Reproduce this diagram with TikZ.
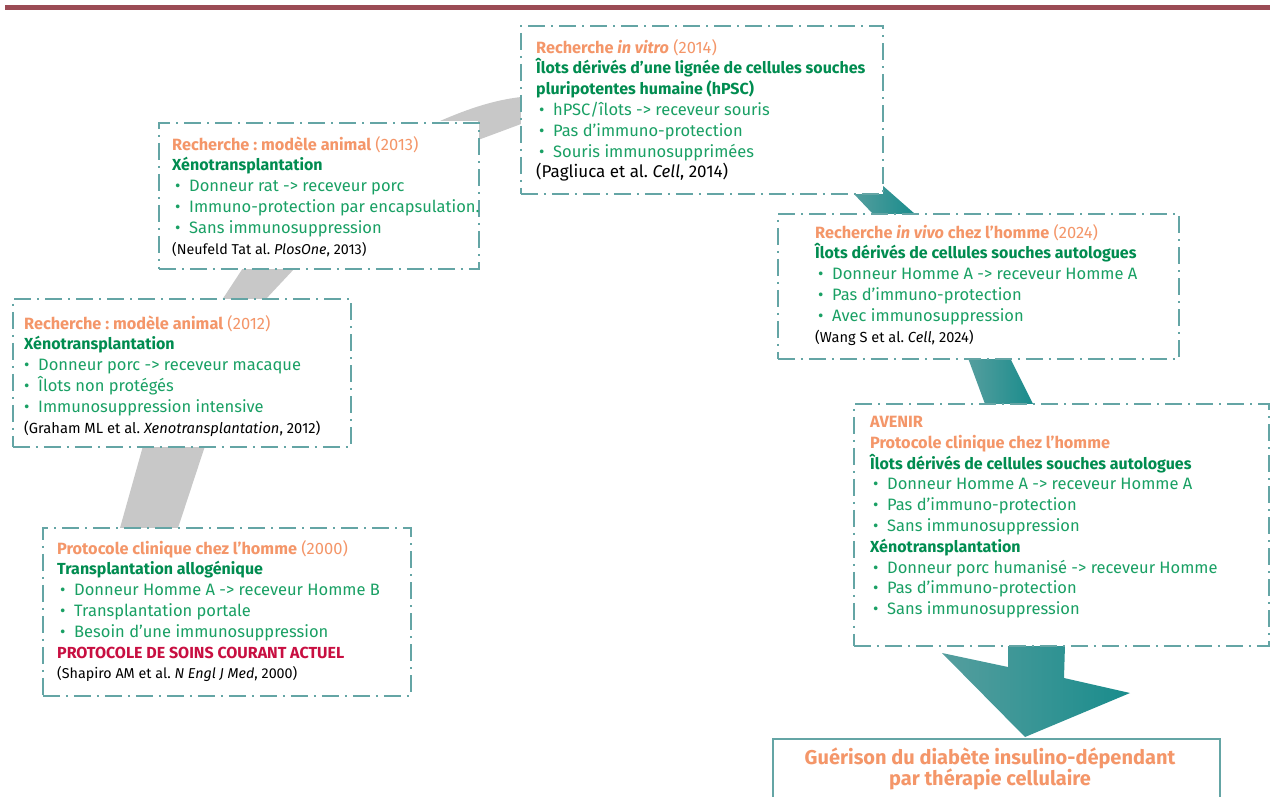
\documentclass[tikz,border=0pt]{standalone}
\usepackage{fontspec}
\setmainfont{Fira Sans}
\usetikzlibrary{calc}
\definecolor{boxline}{RGB}{100,165,165}
\definecolor{orng}{RGB}{244,150,105}
\definecolor{greenb}{RGB}{0,140,80}
\definecolor{greenr}{RGB}{25,160,100}
\definecolor{redt}{RGB}{200,15,65}
\definecolor{graybd}{RGB}{200,200,200}
\definecolor{tealL}{RGB}{85,158,158}
\definecolor{tealD}{RGB}{25,140,140}
\definecolor{barred}{RGB}{155,75,85}
\frenchspacing
\newcommand{\itembul}{\makebox[17pt][l]{\hspace{3pt}•}}
\newcommand{\hd}[1]{{\color{orng}\bfseries\fontsize{16.3}{20.8}\selectfont #1}}
\newcommand{\yr}[1]{{\color{orng}(#1)}}
\newcommand{\sbt}[1]{{\color{greenb}\bfseries\fontsize{16}{20.8}\selectfont #1}}
\newcommand{\rf}[2]{{\color{black}\fontsize{#1}{20}\selectfont #2}}
\tikzset{
 dbox/.style={draw=boxline, line width=1.8pt, dash pattern=on 17pt off 6pt on 2pt off 6pt, fill=white, inner sep=0pt, anchor=north west},
 txt/.style={anchor=north west, align=left, inner sep=0pt, font=\fontsize{16.5}{20.8}\selectfont, text=greenr},
 grayband/.style={fill=graybd, draw=none},
 tealband/.style={left color=tealL, right color=tealD, draw=none},
}
\begin{document}
\begin{tikzpicture}[x=1pt,y=-1pt]
\useasboundingbox (0,0) rectangle (1270,797);
\fill[white] (0,0) rectangle (1270,797);
\fill[barred] (5,5) rectangle (1270,10);

% connectors (bands)
\fill[grayband] (440,121) .. controls (470,108) and (495,100) .. (521,97) -- (521,124) .. controls (505,130) .. (478,140) -- (478,121) -- cycle;
\fill[grayband] (243,268) -- (295,268) -- (265,300) -- (222,300) -- cycle;
\fill[grayband] (143,446) -- (205,446) -- (178,528) -- (120,528) -- cycle;
\shade[tealband] (853,193) -- (882,185) -- (915,214) -- (873,214) -- cycle;
\shade[tealband] (968,358) -- (1010,358) -- (1033,404) -- (985,404) -- cycle;
\shade[tealband] (1008,645) -- (1065,645) -- (1064,678) -- (1130,693) -- (1025,737) -- (942,653) -- (1008,667) -- cycle;

% boxes
\node[dbox, minimum width=362pt, minimum height=168pt] (b2014) at (520,25) {};
\node[dbox, minimum width=320pt, minimum height=146pt] (b2013) at (158,122) {};
\node[dbox, minimum width=338pt, minimum height=148pt] (b2012) at (12,298) {};
\node[dbox, minimum width=368pt, minimum height=168pt] (b2000) at (42,527) {};
\node[dbox, minimum width=401pt, minimum height=145pt] (b2024) at (777,213) {};
\node[dbox, minimum width=415pt, minimum height=242pt] (bav) at (853,403) {};
\node[draw=boxline, line width=1.6pt, fill=white, inner sep=0pt, anchor=north west, minimum width=447pt, minimum height=70pt] (bfin) at (772,738) {};

% texts
\node[txt] (t2014) at ($(b2014.north west)+(16,14)$) {%
\hd{Recherche \textit{in vitro}} \yr{2014}\\
\sbt{Îlots dérivés d’une lignée de cellules souches}\\
\sbt{pluripotentes humaine (hPSC)}\\
\itembul hPSC/îlots -> receveur souris\\
\itembul Pas d’immuno-protection\\
\itembul Souris immunosupprimées\\
\rf{17}{(Pagliuca et al. \textit{Cell}, 2014)}};

\node[txt] (t2013) at ($(b2013.north west)+(14,14)$) {%
\hd{Recherche : modèle animal} \yr{2013}\\
\sbt{Xénotransplantation}\\
\itembul Donneur rat -> receveur porc\\
\itembul Immuno-protection par encapsulation.\\
\itembul Sans immunosuppression\\
\rf{14.3}{(Neufeld Tat al. \textit{PlosOne}, 2013)}};

\node[txt] (t2012) at ($(b2012.north west)+(12,17)$) {%
\hd{Recherche : modèle animal} \yr{2012}\\
\sbt{Xénotransplantation}\\
\makebox[14pt][l]{•}Donneur porc -> receveur macaque\\
\makebox[14pt][l]{•}Îlots non protégés\\
\makebox[14pt][l]{•}Immunosuppression intensive\\
\rf{14.7}{(Graham ML et al. \textit{Xenotransplantation}, 2012)}};

\node[txt] (t2000) at ($(b2000.north west)+(15,13)$) {%
\hd{Protocole clinique chez l’homme} \yr{2000}\\
\sbt{Transplantation allogénique}\\
\itembul Donneur Homme A -> receveur Homme B\\
\itembul Transplantation portale\\
\itembul Besoin d’une immunosuppression\\
{\color{redt}\bfseries\fontsize{16}{20.8}\selectfont PROTOCOLE DE SOINS COURANT ACTUEL}\\
\rf{14.3}{(Shapiro AM et al. \textit{N Engl J Med}, 2000)}};

\node[txt] (t2024) at ($(b2024.north west)+(38,11)$) {%
\hd{Recherche \textit{in vivo} chez l’homme} \yr{2024}\\
\sbt{Îlots dérivés de cellules souches autologues}\\
\itembul Donneur Homme A -> receveur Homme A\\
\itembul Pas d’immuno-protection\\
\itembul Avec immunosuppression\\
\rf{14.6}{(Wang S et al. \textit{Cell}, 2024)}};

\node[txt] (tav) at ($(bav.north west)+(17,13)$) {%
\hd{AVENIR}\\
\hd{Protocole clinique chez l’homme}\\
\sbt{Îlots dérivés de cellules souches autologues}\\
\itembul Donneur Homme A -> receveur Homme A\\
\itembul Pas d’immuno-protection\\
\itembul Sans immunosuppression\\
\sbt{Xénotransplantation}\\
\itembul Donneur porc humanisé -> receveur Homme\\
\itembul Pas d’immuno-protection\\
\itembul Sans immunosuppression};

\node[align=center, inner sep=0pt, text=orng, font=\bfseries\fontsize{20}{21.5}\selectfont] (tfin) at (990,769) {Guérison du diabète insulino-dépendant\\par thérapie cellulaire};
\end{tikzpicture}
\end{document}
